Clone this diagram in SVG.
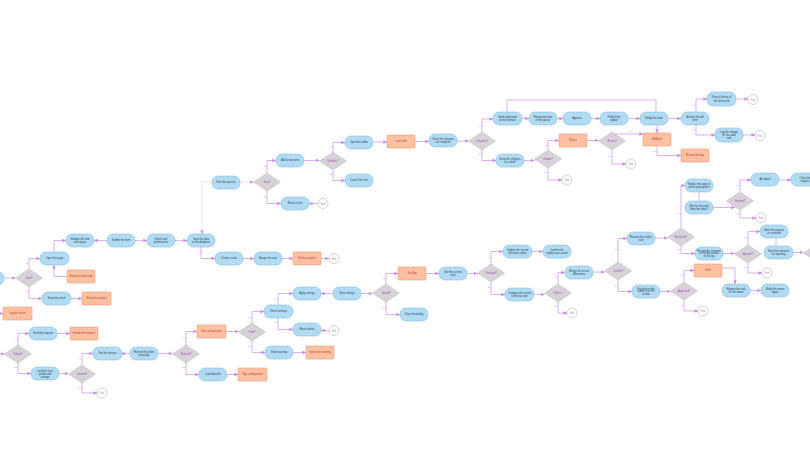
<svg xmlns="http://www.w3.org/2000/svg" width="810" height="449" viewBox="0 0 810 449">
<style>
.b rect{fill:#b0dbf3;stroke:#86bfe2;stroke-width:0.6}
.o rect{fill:#fdc0a0;stroke:#e89e7a;stroke-width:0.6}
.d polygon{fill:#d7d2d7;stroke:#c6bec6;stroke-width:0.6}
.c circle{fill:#fff;stroke:#b8b0b8;stroke-width:0.6}
text{font-family:"Liberation Sans",Arial,sans-serif;font-size:2.6px;text-anchor:middle}
.b text{fill:#2c3e50}
.o text{fill:#c0392b}
.d text{fill:#9b4dbb}
.c text{fill:#999}
#edges path{fill:none;stroke:#cd8de8;stroke-width:0.7;marker-end:url(#ah)}
#edges path.lt{stroke:#efcdf6}
#edges path.nm{marker-end:none}
#edges text{fill:#b068d0;font-size:1.8px}
</style>
<defs>
<marker id="ah" viewBox="0 0 6 6" refX="5.5" refY="3" markerWidth="4" markerHeight="4" orient="auto" markerUnits="userSpaceOnUse"><path d="M0,0.5 L6,3 L0,5.5 z" fill="#cd8de8"/></marker>
</defs>
<rect width="810" height="449" fill="#fff"/>
<g id="edges">
<path d="M4,278 H15.5"/>
<path d="M29,269 V258.5 H40"/>
<path d="M54,252 V240.5 H66"/>
<path d="M107,240.5 H94"/>
<path d="M135,240.5 H147"/>
<path d="M175,240.5 H187"/>
<path d="M67,276.5 H54 V265"/>
<path d="M29,287 V298.5 H42"/>
<path d="M70,298.5 H82"/>
<path d="M0,313.5 H3"/>
<path d="M0,354 H4.5"/>
<path d="M18,345 V333.5 H29"/>
<path d="M57,333.5 H70"/>
<path d="M18,363 V373.5 H31"/>
<path d="M59,373.5 H68.5"/>
<path d="M82,365 V353.5 H93"/>
<path d="M130,353.5 H121"/>
<path d="M158,353.5 H172.5"/>
<path d="M82,383 V393 H97"/>
<path d="M186,345 V331.5 H197"/>
<path d="M186,363 V374.5 H199"/>
<path d="M227,374.5 H238"/>
<path d="M225,331.5 H238.5"/>
<path d="M252,323 V311.5 H264"/>
<path d="M278,305 V293.5 H293"/>
<path d="M333,293.5 H321"/>
<path d="M361,293.5 H372.5"/>
<path d="M278,318 V329.5 H293"/>
<path d="M329,330.5 H321"/>
<path d="M252,341 V352.5 H265"/>
<path d="M293,352.5 H306"/>
<path class="lt" d="M212,182 H202 V234"/>
<path class="lt" d="M240,182 H253.5"/>
<path d="M267,173 V160.5 H276"/>
<path d="M304,160.5 H319.5"/>
<path d="M333,152 V142.5 H345"/>
<path d="M333,170 V180.5 H345"/>
<path d="M267,191 V203.5 H281"/>
<path d="M318,203.5 H309"/>
<path d="M201,247 V258.5 H215"/>
<path d="M243,258.5 H254"/>
<path d="M282,258.5 H293"/>
<path d="M321,258.5 H329"/>
<path d="M373,142 H387"/>
<path d="M415,141.5 H429"/>
<path d="M457,141 H468.5"/>
<path d="M482,132 V119 H493"/>
<path d="M482,150 V160.5 H496"/>
<path d="M522,118.5 H529"/>
<path d="M557,118.5 H563"/>
<path d="M591,118.5 H600"/>
<path d="M628,118.5 H640"/>
<path class="nm" d="M656,112 V100 H507 V112"/>
<path d="M524,160.5 H534.5"/>
<path d="M548,150 V140.5 H559"/>
<path d="M587,140.5 H598.5"/>
<path d="M612.5,132.5 V134 H643"/>
<path d="M612,150 V164 H626"/>
<path d="M548,168 V180 H562"/>
<path d="M657,125 V133"/>
<path d="M668,118.5 H681"/>
<path d="M696,112 V99 H707"/>
<path d="M696,125 V135 H715"/>
<path d="M736,99 H748"/>
<path d="M743,135 H755"/>
<path d="M657,146 V155.5 H681"/>
<path d="M386,284 V273.5 H398"/>
<path d="M386,302 V314.5 H400"/>
<path d="M426,273.5 H439"/>
<path d="M467,273.5 H477.5"/>
<path d="M491,264 V251.5 H503"/>
<path d="M491,282 V294.5 H505"/>
<path d="M532,251.5 H543"/>
<path d="M534,294.5 H544.5"/>
<path d="M558,284 V272.5 H565"/>
<path d="M558,302 V313 H567"/>
<path d="M593,272 H604.5"/>
<path d="M618,262 V238.5 H627"/>
<path d="M618,280 V291.5 H632"/>
<path d="M655,238 H667.5"/>
<path d="M660,291.5 H670.5"/>
<path d="M681,228 V185.5 H685"/>
<path class="nm" d="M699,192 V201"/>
<path d="M713,207.5 H735"/>
<path d="M740,192 V180 H751"/>
<path d="M779,180 H791"/>
<path d="M740,210 V218 H756"/>
<path d="M681,246 V253.5 H695"/>
<path d="M723,253.5 H734.5"/>
<path d="M748,245 V231.5 H760"/>
<path class="nm" d="M776,238 V246"/>
<path d="M748,263 V273 H762"/>
<path d="M793,252.5 H803.5"/>
<path d="M684,282 V270.5 H694"/>
<path d="M722,268 H735 V284"/>
<path d="M750,290.5 H761"/>
<path d="M684,300 V311 H698"/>
<text x="27" y="264">Yes</text><text x="27" y="292">No</text>
<text x="16" y="340">Yes</text><text x="16" y="368">No</text>
<text x="80" y="360">Yes</text><text x="80" y="388">No</text>
<text x="184" y="339">Yes</text><text x="184" y="368">No</text>
<text x="250" y="318">Yes</text><text x="250" y="347">No</text>
<text x="276" y="300">Yes</text><text x="276" y="323">No</text>
<text x="265" y="167">Yes</text><text x="265" y="197">No</text>
<text x="331" y="147">Yes</text><text x="331" y="175">No</text>
<text x="200" y="253">Yes</text>
<text x="480" y="126">Yes</text><text x="480" y="155">No</text>
<text x="546" y="146">Yes</text><text x="546" y="173">No</text>
<text x="610" y="157">No</text><text x="630" y="132">Yes</text>
<text x="655" y="152">No</text>
<text x="694" y="106">Yes</text><text x="694" y="130">No</text>
<text x="384" y="279">Yes</text><text x="384" y="308">No</text>
<text x="489" y="258">Yes</text><text x="489" y="288">No</text>
<text x="556" y="278">Yes</text><text x="556" y="307">No</text>
<text x="616" y="250">Yes</text><text x="616" y="286">No</text>
<text x="679" y="214">Yes</text><text x="679" y="250">No</text>
<text x="738" y="186">Yes</text><text x="738" y="214">No</text>
<text x="746" y="238">Yes</text><text x="746" y="268">No</text>
<text x="682" y="276">Yes</text><text x="682" y="306">No</text>
</g>
<g id="n0" class="b"><rect x="-24" y="272" width="28" height="13" rx="6"/></g>
<g id="n1" class="b"><rect x="40" y="252" width="29" height="13" rx="6"/><text x="54.5" y="259.4">Open the page</text></g>
<g id="n2" class="b"><rect x="66" y="234" width="28" height="13" rx="6"/><text x="80" y="239.8">Validate the form</text><text x="80" y="243">with inputs</text></g>
<g id="n3" class="b"><rect x="107" y="234" width="28" height="13" rx="6"/><text x="121" y="241.4">Submit the form</text></g>
<g id="n4" class="b"><rect x="147" y="234" width="28" height="13" rx="6"/><text x="161" y="239.8">Check user</text><text x="161" y="243">permissions</text></g>
<g id="n5" class="b"><rect x="187" y="234" width="28" height="13" rx="6"/><text x="201" y="239.8">Save the data</text><text x="201" y="243">to the database</text></g>
<g id="n6" class="b"><rect x="42" y="292" width="29" height="13" rx="6"/><text x="56.5" y="299.4">Show the result</text></g>
<g id="n7" class="b"><rect x="29" y="327" width="28" height="13" rx="6"/><text x="43" y="334.4">Send the request</text></g>
<g id="n8" class="b"><rect x="31" y="367" width="28" height="13" rx="6"/><text x="45" y="372">Load the user</text><text x="45" y="375.2">profile and</text><text x="45" y="378.2">settings</text></g>
<g id="n9" class="b"><rect x="93" y="347" width="29" height="13" rx="6"/><text x="107.5" y="354.4">Get the session</text></g>
<g id="n10" class="b"><rect x="130" y="347" width="28" height="13" rx="6"/><text x="144" y="352.8">Refresh the token</text><text x="144" y="356">manually</text></g>
<g id="n11" class="b"><rect x="212" y="176" width="28" height="13" rx="6"/><text x="226" y="183.4">Start the process</text></g>
<g id="n12" class="b"><rect x="276" y="154" width="28" height="13" rx="6"/><text x="290" y="161.4">Add a new item</text></g>
<g id="n13" class="b"><rect x="281" y="197" width="28" height="13" rx="6"/><text x="295" y="204.4">Return to list</text></g>
<g id="n14" class="b"><rect x="215" y="252" width="28" height="13" rx="6"/><text x="229" y="259.4">Create a task</text></g>
<g id="n15" class="b"><rect x="254" y="252" width="28" height="13" rx="6"/><text x="268" y="259.4">Assign the task</text></g>
<g id="n16" class="b"><rect x="345" y="136" width="28" height="13" rx="6"/><text x="359" y="143.4">Open the editor</text></g>
<g id="n17" class="b"><rect x="345" y="174" width="28" height="13" rx="6"/><text x="359" y="181.4">Cancel the edit</text></g>
<g id="n18" class="b"><rect x="429" y="134" width="28" height="13" rx="6"/><text x="443" y="139.8">Check the changes</text><text x="443" y="143">are complete</text></g>
<g id="n19" class="b"><rect x="493" y="112" width="29" height="13" rx="6"/><text x="507.5" y="117.8">Send notification</text><text x="507.5" y="121">to the reviewer</text></g>
<g id="n20" class="b"><rect x="496" y="154" width="28" height="13" rx="6"/><text x="510" y="159.8">Keep the changes</text><text x="510" y="163">as a draft</text></g>
<g id="n21" class="b"><rect x="529" y="112" width="28" height="13" rx="6"/><text x="543" y="117.8">Review the item</text><text x="543" y="121">in the queue</text></g>
<g id="n22" class="b"><rect x="563" y="112" width="28" height="13" rx="6"/><text x="577" y="119.4">Approve</text></g>
<g id="n23" class="b"><rect x="600" y="112" width="28" height="13" rx="6"/><text x="614" y="117.8">Publish the</text><text x="614" y="121">update</text></g>
<g id="n24" class="b"><rect x="640" y="112" width="28" height="13" rx="6"/><text x="654" y="119.4">Notify the team</text></g>
<g id="n25" class="b"><rect x="681" y="112" width="28" height="13" rx="6"/><text x="695" y="117.8">Archive the old</text><text x="695" y="121">item</text></g>
<g id="n26" class="b"><rect x="707" y="92" width="29" height="14" rx="6"/><text x="721.5" y="98.3">Keep a history of</text><text x="721.5" y="101.5">the old record</text></g>
<g id="n27" class="b"><rect x="715" y="128" width="28" height="14" rx="6"/><text x="729" y="133">Log the change</text><text x="729" y="136">for the audit</text><text x="729" y="139">trail</text></g>
<g id="n28" class="b"><rect x="199" y="368" width="28" height="13" rx="6"/><text x="213" y="375.4">Load defaults</text></g>
<g id="n29" class="b"><rect x="264" y="305" width="29" height="13" rx="6"/><text x="278.5" y="312.4">Check settings</text></g>
<g id="n30" class="b"><rect x="293" y="287" width="28" height="13" rx="6"/><text x="307" y="294.4">Apply settings</text></g>
<g id="n31" class="b"><rect x="333" y="287" width="28" height="13" rx="6"/><text x="347" y="294.4">Save settings</text></g>
<g id="n32" class="b"><rect x="293" y="323" width="28" height="13" rx="6"/><text x="307" y="330.4">Reset values</text></g>
<g id="n33" class="b"><rect x="265" y="346" width="28" height="13" rx="6"/><text x="279" y="353.4">Show warning</text></g>
<g id="n34" class="b"><rect x="400" y="308" width="28" height="13" rx="6"/><text x="414" y="315.4">Close the dialog</text></g>
<g id="n35" class="b"><rect x="439" y="267" width="28" height="13" rx="6"/><text x="453" y="272.8">Get the current</text><text x="453" y="276">state</text></g>
<g id="n36" class="b"><rect x="503" y="245" width="29" height="13" rx="6"/><text x="517.5" y="250.8">Update the record</text><text x="517.5" y="254">with new values</text></g>
<g id="n37" class="b"><rect x="505" y="288" width="29" height="13" rx="6"/><text x="519.5" y="293.8">Compare the record</text><text x="519.5" y="297">to the last one</text></g>
<g id="n38" class="b"><rect x="543" y="245" width="28" height="13" rx="6"/><text x="557" y="250.8">Confirm the</text><text x="557" y="254">update was saved</text></g>
<g id="n39" class="b"><rect x="565" y="266" width="28" height="13" rx="6"/><text x="579" y="271.8">Merge the record</text><text x="579" y="275">differences</text></g>
<g id="n40" class="b"><rect x="627" y="232" width="28" height="13" rx="6"/><text x="641" y="237.8">Resolve the conflict</text><text x="641" y="241">now</text></g>
<g id="n41" class="b"><rect x="632" y="285" width="28" height="13" rx="6"/><text x="646" y="289.6">Escalate to the</text><text x="646" y="292.4">admin user for</text><text x="646" y="295.2">review</text></g>
<g id="n42" class="b"><rect x="685" y="179" width="28" height="13" rx="6"/><text x="699" y="184.8">Send a message to</text><text x="699" y="188">all the participants</text></g>
<g id="n43" class="b"><rect x="685" y="201" width="28" height="13" rx="6"/><text x="699" y="206.8">Wait for the reply</text><text x="699" y="210">from the others</text></g>
<g id="n44" class="b"><rect x="751" y="173" width="28" height="13" rx="6"/><text x="765" y="180.4">Accepted</text></g>
<g id="n45" class="b"><rect x="791" y="173" width="28" height="13" rx="6"/><text x="805" y="178.8">Close the</text><text x="805" y="182">request</text></g>
<g id="n46" class="b"><rect x="695" y="247" width="28" height="13" rx="6"/><text x="709" y="251.6">Record the outcome</text><text x="709" y="254.4">of the discussion</text><text x="709" y="257.2">in the log</text></g>
<g id="n47" class="b"><rect x="760" y="225" width="28" height="13" rx="6"/><text x="774" y="230.8">Mark the request</text><text x="774" y="234">as resolved</text></g>
<g id="n48" class="b"><rect x="764" y="246" width="29" height="13" rx="6"/><text x="778.5" y="251.8">Store the outcome</text><text x="778.5" y="255">for reporting</text></g>
<g id="n49" class="b"><rect x="722" y="284" width="28" height="13" rx="6"/><text x="736" y="289.8">Reopen the task</text><text x="736" y="293">for the owner</text></g>
<g id="n50" class="b"><rect x="761" y="284" width="28" height="13" rx="6"/><text x="775" y="289.8">Notify the owner</text><text x="775" y="293">again</text></g>
<g id="o1" class="o"><rect x="67" y="270" width="28" height="13" rx="1"/><text x="81" y="277.4">Show error message</text></g>
<g id="o2" class="o"><rect x="82" y="292" width="29" height="13" rx="1"/><text x="96.5" y="299.4">Retry the request</text></g>
<g id="o3" class="o"><rect x="3" y="307" width="29" height="13" rx="1"/><text x="17.5" y="314.4">Log the failure</text></g>
<g id="o4" class="o"><rect x="70" y="327" width="28" height="13" rx="1"/><text x="84" y="334.4">Handle the timeout</text></g>
<g id="o5" class="o"><rect x="293" y="252" width="28" height="13" rx="1"/><text x="307" y="259.4">Notify assignee</text></g>
<g id="o6" class="o"><rect x="387" y="135" width="28" height="13" rx="1"/><text x="401" y="142.4">Lock item</text></g>
<g id="o7" class="o"><rect x="559" y="134" width="28" height="13" rx="1"/><text x="573" y="141.4">Reject</text></g>
<g id="o8" class="o"><rect x="643" y="133" width="28" height="13" rx="1"/><text x="657" y="140.4">Rollback</text></g>
<g id="o9" class="o"><rect x="681" y="149" width="28" height="13" rx="1"/><text x="695" y="156.4">Restore backup</text></g>
<g id="o10" class="o"><rect x="197" y="325" width="29" height="13" rx="1"/><text x="211.5" y="332.4">Use cached value</text></g>
<g id="o11" class="o"><rect x="238" y="368" width="29" height="13" rx="1"/><text x="252.5" y="375.4">Skip configuration</text></g>
<g id="o12" class="o"><rect x="306" y="346" width="28" height="13" rx="1"/><text x="320" y="353.4">Ignore the warning</text></g>
<g id="o13" class="o"><rect x="398" y="267" width="28" height="13" rx="1"/><text x="412" y="274.4">Set flag</text></g>
<g id="o14" class="o"><rect x="694" y="264" width="28" height="13" rx="1"/><text x="708" y="271.4">Hold</text></g>
<g id="d1" class="d"><polygon points="29,269 42.5,278 29,287 15.5,278"/><text x="29" y="279">Valid?</text></g>
<g id="d2" class="d"><polygon points="18,345 31.5,354 18,363 4.5,354"/><text x="18" y="355">Online?</text></g>
<g id="d3" class="d"><polygon points="82,365 95.5,374 82,383 68.5,374"/><text x="82" y="375">Loaded?</text></g>
<g id="d4" class="d"><polygon points="186,345 199.5,354 186,363 172.5,354"/><text x="186" y="355">Expired?</text></g>
<g id="d5" class="d"><polygon points="267,173 280.5,182 267,191 253.5,182"/><text x="267" y="183">New?</text></g>
<g id="d6" class="d"><polygon points="333,152 346.5,161 333,170 319.5,161"/><text x="333" y="162">Editable?</text></g>
<g id="d7" class="d"><polygon points="482,132 495.5,141 482,150 468.5,141"/><text x="482" y="142">Complete?</text></g>
<g id="d8" class="d"><polygon points="612,132 625.5,141 612,150 598.5,141"/><text x="612" y="142">Revert?</text></g>
<g id="d9" class="d"><polygon points="548,150 561.5,159 548,168 534.5,159"/><text x="548" y="160">Submit?</text></g>
<g id="d10" class="d"><polygon points="252,323 265.5,332 252,341 238.5,332"/><text x="252" y="333">Valid?</text></g>
<g id="d11" class="d"><polygon points="386,284 399.5,293 386,302 372.5,293"/><text x="386" y="294">Saved?</text></g>
<g id="d12" class="d"><polygon points="491,264 504.5,273 491,282 477.5,273"/><text x="491" y="274">Changed?</text></g>
<g id="d13" class="d"><polygon points="558,284 571.5,293 558,302 544.5,293"/><text x="558" y="294">Differs?</text></g>
<g id="d14" class="d"><polygon points="618,262 631.5,271 618,280 604.5,271"/><text x="618" y="272">Conflict?</text></g>
<g id="d15" class="d"><polygon points="681,228 694.5,237 681,246 667.5,237"/><text x="681" y="238">Resolved?</text></g>
<g id="d16" class="d"><polygon points="684,282 697.5,291 684,300 670.5,291"/><text x="684" y="292">Approved?</text></g>
<g id="d17" class="d"><polygon points="740,192 753.5,201 740,210 726.5,201"/><text x="740" y="202">Replied?</text></g>
<g id="d18" class="d"><polygon points="748,245 761.5,254 748,263 734.5,254"/><text x="748" y="255">Agreed?</text></g>
<g id="d19" class="d"><polygon points="817,244 830.5,253 817,262 803.5,253"/></g>
<g id="c1" class="c"><circle cx="102" cy="393" r="5"/><text x="102" y="394">End</text></g>
<g id="c2" class="c"><circle cx="323" cy="203.5" r="5"/><text x="323" y="204.5">End</text></g>
<g id="c3" class="c"><circle cx="334" cy="258.5" r="5"/><text x="334" y="259.5">End</text></g>
<g id="c4" class="c"><circle cx="567" cy="180" r="5"/><text x="567" y="181">End</text></g>
<g id="c5" class="c"><circle cx="631" cy="164" r="5"/><text x="631" y="165">End</text></g>
<g id="c6" class="c"><circle cx="753" cy="99.5" r="5"/><text x="753" y="100.5">End</text></g>
<g id="c7" class="c"><circle cx="760" cy="135.5" r="5"/><text x="760" y="136.5">End</text></g>
<g id="c8" class="c"><circle cx="334" cy="330.5" r="5"/><text x="334" y="331.5">End</text></g>
<g id="c9" class="c"><circle cx="572" cy="313" r="5"/><text x="572" y="314">End</text></g>
<g id="c10" class="c"><circle cx="761" cy="218" r="5"/><text x="761" y="219">End</text></g>
<g id="c11" class="c"><circle cx="767" cy="273" r="5"/><text x="767" y="274">End</text></g>
<g id="c12" class="c"><circle cx="703" cy="311" r="5"/><text x="703" y="312">End</text></g>
</svg>
